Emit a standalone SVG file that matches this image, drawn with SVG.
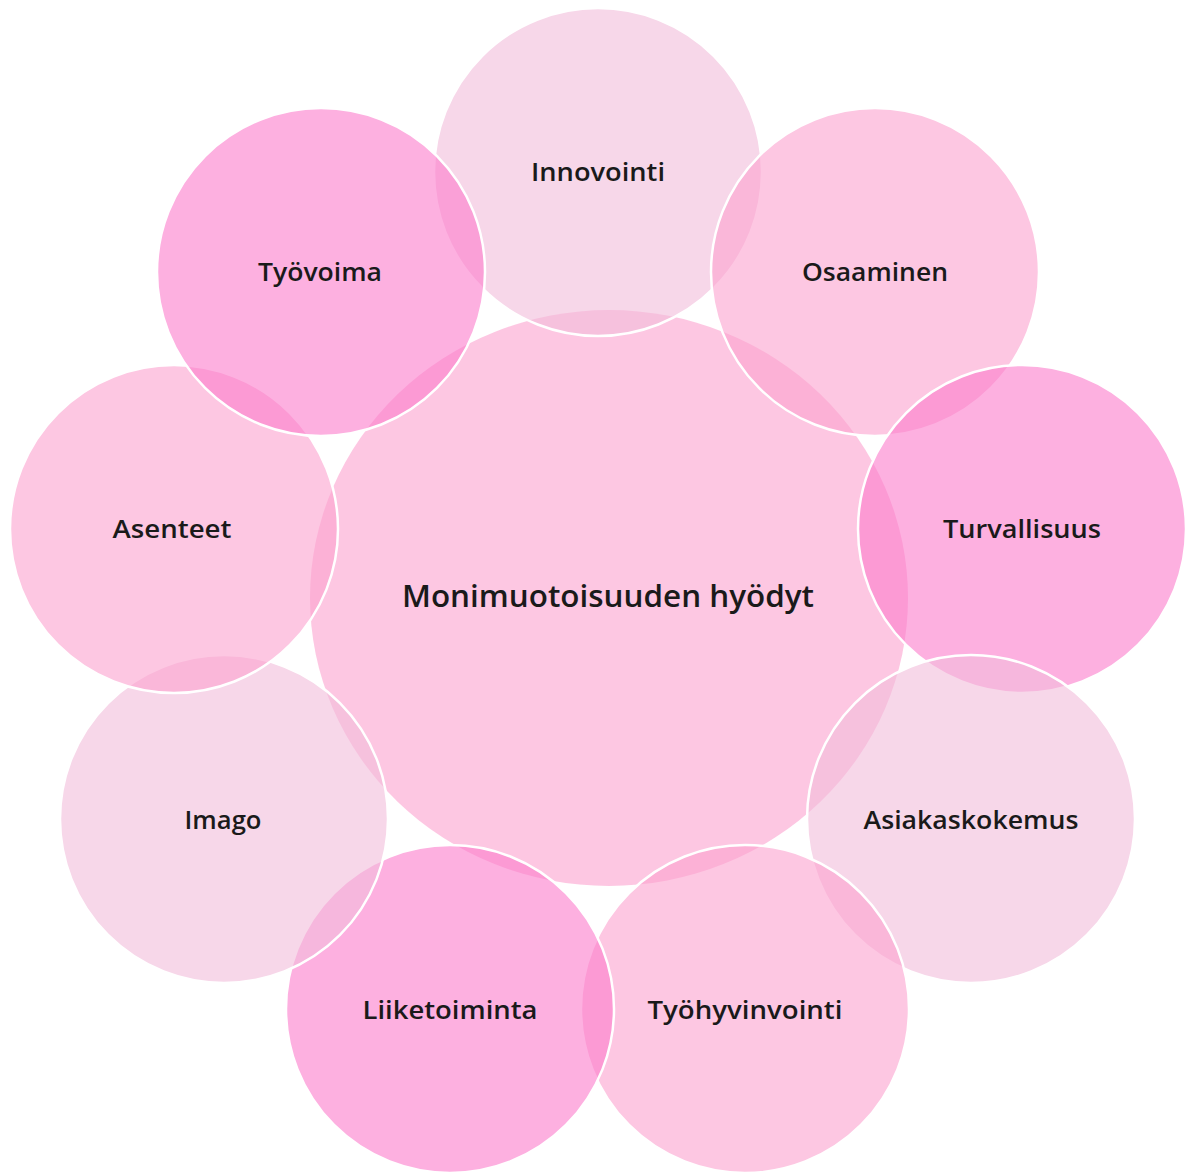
<svg xmlns="http://www.w3.org/2000/svg" width="1187" height="1174" viewBox="0 0 1187 1174">
<style>
.c{stroke:#ffffff;stroke-width:2.5}
.light{fill:#F2BCDA;fill-opacity:0.6}
.mid{fill:#FCA2CE;fill-opacity:0.6}
.dark{fill:#FC7CCB;fill-opacity:0.6}
.center{fill:#FCA2CE;fill-opacity:0.6}
text{font-family:"Open Sans","DejaVu Sans",sans-serif;font-weight:600;fill:#1a1a1a;text-anchor:middle}
.lbl{font-size:26px}
.main{font-size:31px}
</style>
<rect width="1187" height="1174" fill="#ffffff"/>
<g id="connectors"></g>
<g id="center-node">
<ellipse class="center" cx="609" cy="598" rx="299" ry="288"/>
<text class="main" x="608" y="607" textLength="412" lengthAdjust="spacingAndGlyphs">Monimuotoisuuden hyödyt</text>
</g>
<g id="node-innovointi">
<circle class="c light" cx="598" cy="172" r="164"/>
<text class="lbl" x="598" y="181" textLength="134" lengthAdjust="spacingAndGlyphs">Innovointi</text>
</g>
<g id="node-osaaminen">
<circle class="c mid" cx="875" cy="272" r="164"/>
<text class="lbl" x="875" y="281" textLength="146" lengthAdjust="spacingAndGlyphs">Osaaminen</text>
</g>
<g id="node-turvallisuus">
<circle class="c dark" cx="1022" cy="529" r="164"/>
<text class="lbl" x="1022" y="538" textLength="158" lengthAdjust="spacingAndGlyphs">Turvallisuus</text>
</g>
<g id="node-asiakaskokemus">
<circle class="c light" cx="971" cy="819" r="164"/>
<text class="lbl" x="971" y="829" textLength="215" lengthAdjust="spacingAndGlyphs">Asiakaskokemus</text>
</g>
<g id="node-tyohyvinvointi">
<circle class="c mid" cx="745" cy="1009" r="164"/>
<text class="lbl" x="745" y="1019" textLength="195" lengthAdjust="spacingAndGlyphs">Työhyvinvointi</text>
</g>
<g id="node-liiketoiminta">
<circle class="c dark" cx="450" cy="1009" r="164"/>
<text class="lbl" x="450" y="1019" textLength="175" lengthAdjust="spacingAndGlyphs">Liiketoiminta</text>
</g>
<g id="node-imago">
<circle class="c light" cx="224" cy="819" r="164"/>
<text class="lbl" x="223" y="829" textLength="77" lengthAdjust="spacingAndGlyphs">Imago</text>
</g>
<g id="node-asenteet">
<circle class="c mid" cx="174" cy="529" r="164"/>
<text class="lbl" x="172" y="538" textLength="119" lengthAdjust="spacingAndGlyphs">Asenteet</text>
</g>
<g id="node-tyovoima">
<circle class="c dark" cx="321" cy="272" r="164"/>
<text class="lbl" x="320" y="281" textLength="124" lengthAdjust="spacingAndGlyphs">Työvoima</text>
</g>
</svg>
